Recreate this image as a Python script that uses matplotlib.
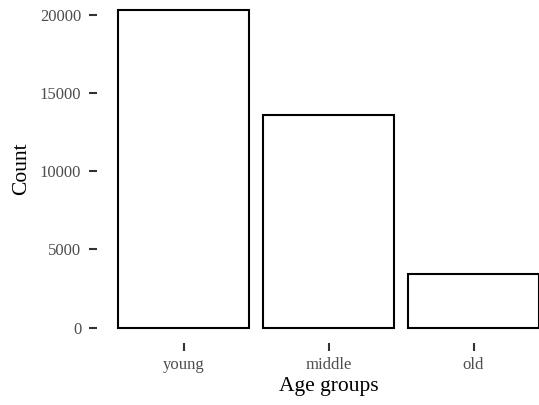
import matplotlib.pyplot as plt

# counts per age group
groups = ['young', 'middle', 'old']
counts = [20370, 13600, 3410]
yticks = [0, 5000, 10000, 15000, 20000]

plt.rcParams['font.family'] = ['Liberation Serif', 'DejaVu Serif']

W, H = 539, 405
fig = plt.figure(figsize=(W / 100, H / 100), dpi=100)
# panel runs a bit past the figure edges (cropped like the reference)
left, right, bottom, top = 96.5, 560.5, 343.4, -6.2
ax = fig.add_axes([left / W, 1 - bottom / H, (right - left) / W, (bottom - top) / H])

x = list(range(len(groups)))
ax.bar(x, counts, width=0.9, facecolor='white', edgecolor='black', linewidth=1.5)

ymax = max(counts)
ax.set_xlim(-0.6, len(groups) - 0.4)
ax.set_ylim(-0.05 * ymax, 1.05 * ymax)
ax.set_xticks(x)
ax.set_xticklabels(groups)
ax.set_yticks(yticks)

for s in ax.spines.values():
    s.set_visible(False)
ax.tick_params(axis='both', length=6, width=1.5, color='#333333',
               labelsize=12, labelcolor='#4d4d4d', pad=5)
ax.tick_params(axis='x', pad=4)

ax.set_xlabel('Age groups', fontsize=15.5, labelpad=3)
ax.set_ylabel('Count', fontsize=15.5, labelpad=6)

fig.savefig('out.png', dpi=100)
